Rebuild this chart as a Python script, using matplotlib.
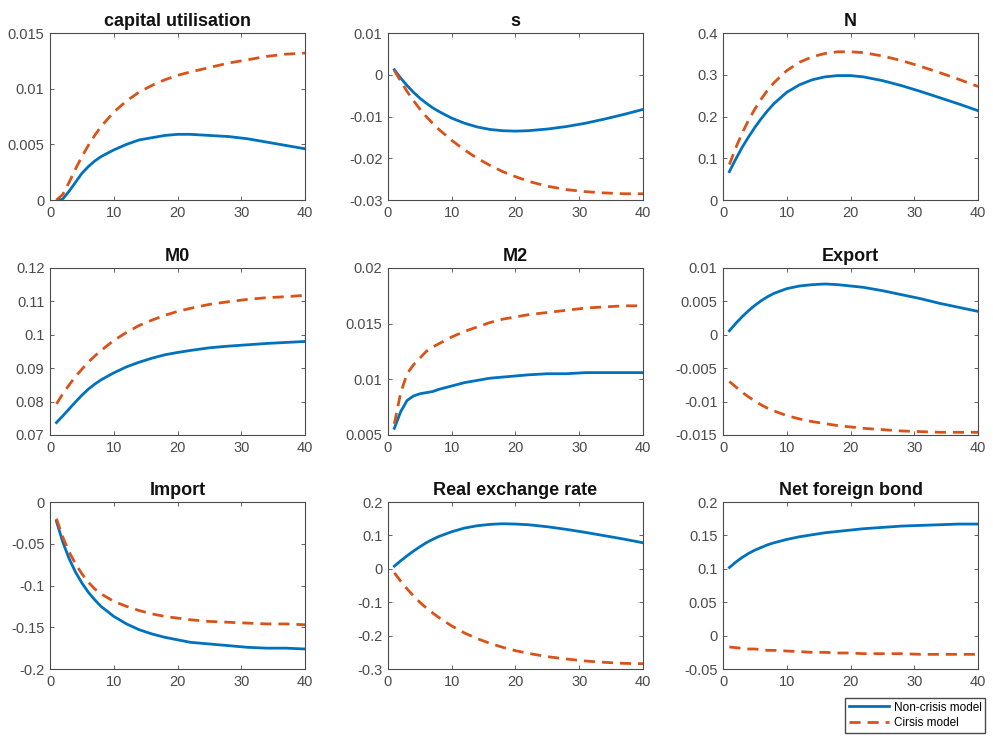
import matplotlib
matplotlib.use("Agg")
import matplotlib.pyplot as plt
from matplotlib.ticker import FuncFormatter

# impulse responses at selected periods
periods = [1, 2, 3, 4, 5, 6, 7, 8, 10, 12, 14, 16, 18, 20, 22, 25, 28, 31, 34, 37, 40]

titles = ['capital utilisation', 's', 'N', 'M0', 'M2', 'Export',
          'Import', 'Real exchange rate', 'Net foreign bond']

cu_base = [-0.0001, 0.0001, 0.0008, 0.0016, 0.0024, 0.0030, 0.0035, 0.0039, 0.0045, 0.0050, 0.0054,
           0.0056, 0.0058, 0.0059, 0.0059, 0.0058, 0.0057, 0.0055, 0.0052, 0.0049, 0.0046]
cu_crisis = [0.0, 0.0005, 0.0016, 0.0028, 0.0039, 0.0049, 0.0058, 0.0066, 0.0079, 0.0089, 0.0097,
             0.0103, 0.0108, 0.0112, 0.0115, 0.0119, 0.0123, 0.0126, 0.0129, 0.0131, 0.0132]

s_base = [0.0012, -0.0008, -0.0026, -0.0042, -0.0056, -0.0068, -0.0079, -0.0088, -0.0104, -0.0116, -0.0125,
          -0.0131, -0.0134, -0.0135, -0.0134, -0.0130, -0.0124, -0.0116, -0.0106, -0.0095, -0.0083]
s_crisis = [0.0010, -0.0015, -0.0040, -0.0062, -0.0082, -0.0100, -0.0116, -0.0131, -0.0157, -0.0180, -0.0200,
            -0.0217, -0.0232, -0.0244, -0.0255, -0.0267, -0.0275, -0.0280, -0.0283, -0.0285, -0.0285]

n_base = [0.068, 0.098, 0.126, 0.151, 0.174, 0.195, 0.214, 0.231, 0.258, 0.276, 0.288,
          0.295, 0.298, 0.298, 0.295, 0.286, 0.274, 0.260, 0.245, 0.230, 0.214]
n_crisis = [0.085, 0.125, 0.160, 0.191, 0.218, 0.242, 0.263, 0.281, 0.310, 0.330, 0.343,
            0.351, 0.355, 0.355, 0.353, 0.345, 0.334, 0.320, 0.305, 0.289, 0.272]

m0_base = [0.0737, 0.0757, 0.0778, 0.0799, 0.0819, 0.0837, 0.0852, 0.0865, 0.0886, 0.0904, 0.0918,
           0.0930, 0.0940, 0.0947, 0.0953, 0.0961, 0.0966, 0.0970, 0.0974, 0.0977, 0.0980]
m0_crisis = [0.0793, 0.0823, 0.0850, 0.0875, 0.0897, 0.0918, 0.0936, 0.0953, 0.0983, 0.1007, 0.1028,
             0.1044, 0.1058, 0.1070, 0.1079, 0.1091, 0.1099, 0.1106, 0.1111, 0.1114, 0.1118]

m2_base = [0.0056, 0.0071, 0.0081, 0.0085, 0.0087, 0.0088, 0.0089, 0.0091, 0.0094, 0.0097, 0.0099,
           0.0101, 0.0102, 0.0103, 0.0104, 0.0105, 0.0105, 0.0106, 0.0106, 0.0106, 0.0106]
m2_crisis = [0.0060, 0.0088, 0.0105, 0.0113, 0.0119, 0.0125, 0.0129, 0.0132, 0.0138, 0.0143, 0.0147,
             0.0151, 0.0154, 0.0156, 0.0158, 0.0160, 0.0162, 0.0164, 0.0165, 0.0166, 0.0166]

ex_base = [0.0006, 0.0017, 0.0027, 0.0036, 0.0044, 0.0051, 0.0057, 0.0062, 0.0069, 0.0073, 0.0075,
           0.0076, 0.0075, 0.0073, 0.0071, 0.0066, 0.0060, 0.0054, 0.0047, 0.0041, 0.0035]
ex_crisis = [-0.0070, -0.0078, -0.0086, -0.0093, -0.0099, -0.0105, -0.0110, -0.0114, -0.0121, -0.0126, -0.0130,
             -0.0133, -0.0136, -0.0138, -0.0140, -0.0142, -0.0144, -0.0145, -0.0146, -0.0146, -0.0146]

im_base = [-0.023, -0.048, -0.068, -0.084, -0.097, -0.108, -0.117, -0.125, -0.137, -0.146, -0.153,
           -0.158, -0.162, -0.165, -0.168, -0.170, -0.172, -0.174, -0.175, -0.175, -0.176]
im_crisis = [-0.020, -0.042, -0.060, -0.074, -0.086, -0.096, -0.104, -0.110, -0.119, -0.125, -0.130,
             -0.134, -0.137, -0.139, -0.141, -0.143, -0.144, -0.145, -0.146, -0.146, -0.147]

rer_base = [0.008, 0.024, 0.039, 0.053, 0.066, 0.078, 0.088, 0.097, 0.111, 0.122, 0.129,
            0.133, 0.135, 0.134, 0.132, 0.126, 0.118, 0.109, 0.099, 0.089, 0.078]
rer_crisis = [-0.012, -0.037, -0.060, -0.081, -0.100, -0.117, -0.132, -0.146, -0.171, -0.192, -0.209,
              -0.223, -0.235, -0.245, -0.253, -0.263, -0.270, -0.276, -0.280, -0.283, -0.284]

nfb_base = [0.102, 0.110, 0.117, 0.123, 0.128, 0.132, 0.136, 0.139, 0.144, 0.148, 0.151,
            0.154, 0.156, 0.158, 0.160, 0.162, 0.164, 0.165, 0.166, 0.167, 0.167]
nfb_crisis = [-0.017, -0.018, -0.019, -0.020, -0.020, -0.021, -0.022, -0.022, -0.023, -0.024, -0.025,
              -0.025, -0.026, -0.026, -0.027, -0.027, -0.027, -0.028, -0.028, -0.028, -0.028]

base_series = [cu_base, s_base, n_base, m0_base, m2_base, ex_base, im_base, rer_base, nfb_base]
crisis_series = [cu_crisis, s_crisis, n_crisis, m0_crisis, m2_crisis, ex_crisis, im_crisis, rer_crisis, nfb_crisis]

y_limits = [(0, 0.015), (-0.03, 0.01), (0, 0.4), (0.07, 0.12), (0.005, 0.02),
            (-0.015, 0.01), (-0.2, 0), (-0.3, 0.2), (-0.05, 0.2)]
y_steps = [0.005, 0.01, 0.1, 0.01, 0.005, 0.005, 0.05, 0.1, 0.05]

plt.rcParams['font.family'] = ['Liberation Sans', 'DejaVu Sans']
plt.rcParams['axes.unicode_minus'] = False

fig = plt.figure(figsize=(9.93, 7.40), dpi=100)

col_left = [0.0504, 0.3907, 0.7281]
row_bottom = [0.7297, 0.4122, 0.0959]
ax_w = 0.2568
ax_h = 0.2257

grey = '#4a4a4a'
fmt = FuncFormatter(lambda v, pos: '%g' % round(v, 6))

for i in range(9):
    r, c = divmod(i, 3)
    ax = fig.add_axes([col_left[c], row_bottom[r], ax_w, ax_h])
    l1, = ax.plot(periods, base_series[i], color='#0072BD', lw=2, label='Non-crisis model')
    l2, = ax.plot(periods, crisis_series[i], color='#D95319', lw=2, ls=(0, (4, 2.5)),
                  label='Cirsis model')
    ax.set_xlim(0, 40)
    lo, hi = y_limits[i]
    ax.set_ylim(lo, hi)
    n = int(round((hi - lo) / y_steps[i]))
    ax.set_yticks([lo + k * y_steps[i] for k in range(n + 1)])
    ax.set_xticks([0, 10, 20, 30, 40])
    ax.yaxis.set_major_formatter(fmt)
    ax.tick_params(direction='in', top=True, right=True, length=3, width=0.6,
                   labelsize=10.5, colors=grey, pad=4)
    for sp in ax.spines.values():
        sp.set_color(grey)
        sp.set_linewidth(0.8)
    ax.set_title(titles[i], fontsize=13, fontweight='bold', pad=5, color='#111111')

fig.legend([l1, l2], ['Non-crisis model', 'Cirsis model'], loc='lower right',
           bbox_to_anchor=(0.998, 0.002), fontsize=8.5, handlelength=3.4,
           frameon=True, fancybox=False, edgecolor=grey, framealpha=1,
           borderpad=0.3, labelspacing=0.3, handletextpad=0.4)

fig.savefig('out.png', dpi=100)
